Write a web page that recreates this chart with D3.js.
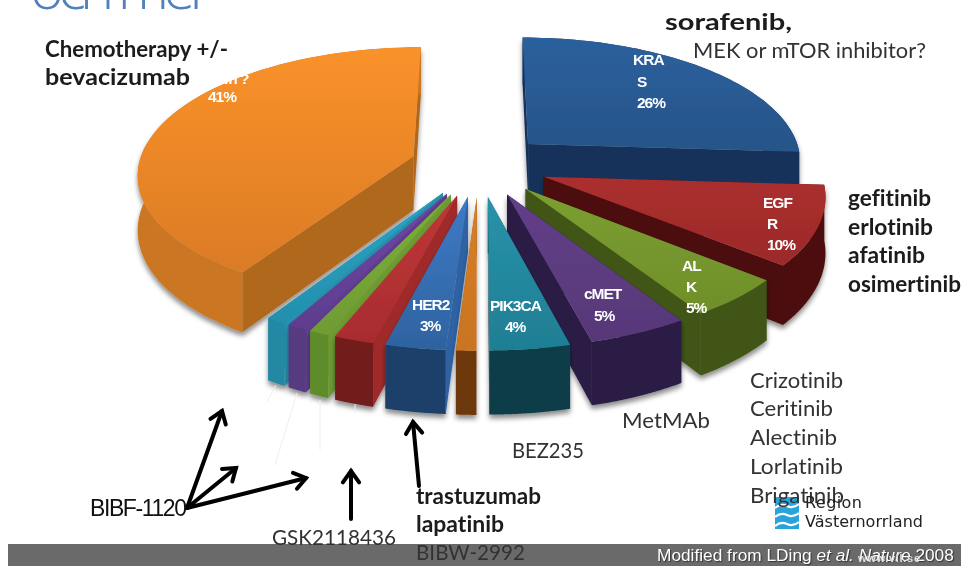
<!DOCTYPE html>
<html><head><meta charset="utf-8">
<script src="https://cdn.jsdelivr.net/npm/d3@7/dist/d3.min.js"></script>
<style>
html,body{margin:0;padding:0;background:#fff;overflow:hidden}
svg{display:block}
text{font-variant-ligatures:none;font-feature-settings:"liga" 0,"kern" 1}
</style></head><body><svg id="c" width="961" height="566"></svg>
<script>
// ---- data (clockwise from 12 o'clock) ----
const categories = ["KRAS","EGFR","ALK","cMET","PIK3CA","BRAF","HER2","NRAS","AKT1","MAP2K1","NTRK","Unknown"];
const values     = [26,10,5,5,4,1,3,2,1,1,1,41];
// ---- colours: light top, dark top, outer wall, cut wall ----
const topLight = ["#2C609E","#AC2F2E","#7C9F30","#623F88","#2893AB","#DB7F22","#3F7AC6","#C03738","#7CAE3C","#7047A6","#2AA5C4","#FA922A"];
const topDark  = ["#265488","#9B2A29","#6F8E2B","#573878","#1F7E93","#C87420","#2E639F","#A82C2F","#6F9C33","#5E3D8E","#238FAD","#DB7B25"];
const outerWall= ["#16335A","#4C0E0E","#3F5418","#2A1A44","#0F3C48","#6E390D","#1D3F69","#731A1D","#5F8C2C","#573A80","#2388A4","#CB7621"];
const cutWall  = ["#16335A","#4C0E0E","#3F5418","#2A1A44","#0F3C48","#8A4A12","#2D62A2","#A02B2C","#6E9A32","#5E3D8E","#2591AE","#B0691B"];
// ---- annotation text ----
const sliceLabels = [
 {t:"KRA",x:633,y:65},{t:"S",x:637,y:87},{t:"26%",x:637,y:108},
 {t:"EGF",x:763,y:208},{t:"R",x:767,y:229},{t:"10%",x:767,y:250},
 {t:"AL",x:682,y:271},{t:"K",x:686,y:292},{t:"5%",x:686,y:313},
 {t:"cMET",x:584,y:299},{t:"5%",x:594,y:321},
 {t:"HER2",x:412,y:310},{t:"3%",x:420,y:331},
 {t:"PIK3CA",x:490,y:311},{t:"4%",x:505,y:332},
 {t:"Unknown ?",x:174,y:84},{t:"41%",x:208,y:102}
];
const boldNotes = [
 {t:"sorafenib,",x:665,y:30,w:127},
 {t:"Chemotherapy +/-",x:45,y:57,w:183},
 {t:"bevacizumab",x:45,y:85,w:145},
 {t:"gefitinib",x:848,y:206,w:83},
 {t:"erlotinib",x:848,y:235,w:85},
 {t:"afatinib",x:848,y:263,w:77},
 {t:"osimertinib",x:848,y:292,w:113},
 {t:"trastuzumab",x:416,y:504,w:125},
 {t:"lapatinib",x:416,y:532,w:88}
];
const plainNotes = [
 {t:"MEK or mTOR inhibitor?",x:693,y:58,w:233},
 {t:"Crizotinib",x:750,y:388,w:93},
 {t:"Ceritinib",x:750,y:416,w:83},
 {t:"Alectinib",x:750,y:445,w:87},
 {t:"Lorlatinib",x:750,y:474,w:93},
 {t:"Brigatinib",x:750,y:503,w:94},
 {t:"MetMAb",x:622,y:428,w:88},
 {t:"BEZ235",x:512,y:458,w:72},
 {t:"GSK2118436",x:272,y:545,w:124},
 {t:"BIBW-2992",x:416,y:560,w:109}
];
const arrows = [
 {x1:187,y1:508,x2:222,y2:411},{x1:187,y1:508,x2:236,y2:468},{x1:187,y1:508,x2:306,y2:478},
 {x1:351,y1:519,x2:351,y2:471},{x1:419,y1:486,x2:413,y2:422}
];
const faintLines = [[276,385,267,402],[297,393,275,465],[320,400,320,450],[355,404,355,412]];

// ---- projection of the tilted pie plane ----
const cx=479, cy=165, rx=275, ry=125, persp=0.127, depth=54, explode=0.25;
function project(X,Y,z){const s=1/(1+persp*Y);return [cx+rx*X*s, cy-ry*Y*s+z*depth*s];}

const svg=d3.select("#c");
const defs=svg.append("defs");
const f=defs.append("filter").attr("id","sh").attr("x","-20%").attr("y","-20%").attr("width","140%").attr("height","140%");
f.append("feDropShadow").attr("dx",0).attr("dy",4).attr("stdDeviation",2.5).attr("flood-color","#000").attr("flood-opacity",.45);
defs.append("filter").attr("id","soft").append("feGaussianBlur").attr("stdDeviation",.45);
const g=defs.append("filter").attr("id","txt").attr("x","-5%").attr("y","-20%").attr("width","110%").attr("height","140%");
g.append("feGaussianBlur").attr("stdDeviation",.35);

const root=svg.append("g");

// title fragment
root.append("text").attr("x",30).attr("y",9).attr("font-family","Open Sans").attr("font-weight",300)
  .attr("font-size",58).attr("fill","#4F81BD").attr("textLength",182).text("och mer");

const pie=d3.pie().sort(null).value(d=>d.v);
const slices=pie(values.map((v,i)=>({v,i,name:categories[i]})));
const line=d3.line();

const faces=slices.map(s=>{
  const m=(s.startAngle+s.endAngle)/2;
  const ex=explode*Math.sin(m), ey=explode*Math.cos(m);
  const pt=(a,z)=>project(ex+Math.sin(a),ey+Math.cos(a),z);
  const apex=z=>project(ex,ey,z);
  const as=d3.range(0,61).map(k=>s.startAngle+(s.endAngle-s.startAngle)*k/60);
  const top=[apex(0),...as.map(a=>pt(a,0))];
  const outer=[...as.map(a=>pt(a,0)),...as.slice().reverse().map(a=>pt(a,1))];
  const cut=a=>[apex(0),pt(a,0),pt(a,1),apex(1)];
  const ys=top.map(p=>p[1]);
  return {s,i:s.data.i,m,ey,top,outer,cutA:cut(s.startAngle),cutB:cut(s.endAngle),y0:d3.min(ys),y1:d3.max(ys)};
});

faces.forEach(d=>{
  const lg=defs.append("linearGradient").attr("id","g"+d.i).attr("gradientUnits","userSpaceOnUse")
    .attr("x1",0).attr("x2",0).attr("y1",d.y0).attr("y2",d.y1);
  lg.append("stop").attr("offset",0).attr("stop-color",topLight[d.i]);
  lg.append("stop").attr("offset",1).attr("stop-color",topDark[d.i]);
});

// painter's order: far slices first
const order=faces.slice().sort((a,b)=>{
  const key=d=>{const ma=Math.min(Math.abs(d.m-Math.PI),Math.abs(d.m+Math.PI));return -ma;};
  return key(a)-key(b);
});
const pies=root.append("g").attr("filter","url(#soft)");
const groups=pies.selectAll("g.slice").data(order).join("g").attr("class","slice").attr("filter","url(#sh)");
groups.append("path").attr("d",d=>line(d.cutA)+"Z").attr("fill",d=>cutWall[d.i]);
groups.append("path").attr("d",d=>line(d.cutB)+"Z").attr("fill",d=>cutWall[d.i]);
groups.append("path").attr("d",d=>line(d.outer)+"Z").attr("fill",d=>outerWall[d.i]);
groups.append("path").attr("d",d=>line(d.top)+"Z").attr("fill",d=>`url(#g${d.i})`);

// faint leader lines
root.selectAll("line.faint").data(faintLines).join("line").attr("class","faint")
  .attr("x1",d=>d[0]).attr("y1",d=>d[1]).attr("x2",d=>d[2]).attr("y2",d=>d[3])
  .attr("stroke","#eeeeee").attr("stroke-width",1);

// slice labels
root.selectAll("text.sl").data(sliceLabels).join("text").attr("class","sl")
  .attr("x",d=>d.x).attr("y",d=>d.y).text(d=>d.t)
  .attr("font-family","Liberation Sans").attr("font-weight",700).attr("font-size",15.5)
  .attr("letter-spacing",-1).attr("fill","#fff").attr("filter","url(#txt)");

// bottom bar
root.append("rect").attr("x",8).attr("y",544).attr("width",953).attr("height",22).attr("fill","#6a6a6a");

// arrows
const arrowG=root.append("g").attr("stroke","#000").attr("fill","none").attr("stroke-width",4).attr("stroke-linecap","round").attr("stroke-linejoin","miter");
arrows.forEach(a=>{
  const ang=Math.atan2(a.y2-a.y1,a.x2-a.x1), L=14, sp=0.62;
  arrowG.append("line").attr("x1",a.x1).attr("y1",a.y1).attr("x2",a.x2).attr("y2",a.y2);
  arrowG.append("path").attr("d",line([
    [a.x2-L*Math.cos(ang-sp),a.y2-L*Math.sin(ang-sp)],[a.x2,a.y2],
    [a.x2-L*Math.cos(ang+sp),a.y2-L*Math.sin(ang+sp)]]));
});

// logo (under the overlapping notes)
const logo=root.append("g");
logo.append("rect").attr("x",775).attr("y",497).attr("width",24).attr("height",32).attr("fill","#29A3DC");
[503,512,521].forEach((y,k)=>{
  logo.append("path").attr("d",`M775,${y+5} Q781,${y} 787,${y+3} Q793,${y+6} 799,${y+1}`).attr("fill","none").attr("stroke","#fff").attr("stroke-width",2.2);
});

// notes
const note=(sel,data,weight,fill,size)=>sel.selectAll(null).data(data).join("text")
  .attr("x",d=>d.x).attr("y",d=>d.y).attr("textLength",d=>d.w).attr("lengthAdjust","spacingAndGlyphs")
  .attr("font-family","Lato").attr("font-weight",weight).attr("font-size",size).attr("fill",fill).attr("filter","url(#txt)").text(d=>d.t);
note(root.append("g"),boldNotes,700,"#1a1a1a",22);
note(root.append("g"),plainNotes,400,"#333",22);

root.append("text").attr("x",90).attr("y",516).attr("font-family","Liberation Sans").attr("font-size",23)
  .attr("textLength",97).attr("lengthAdjust","spacing").attr("fill","#111").text("BIBF-1120");

root.append("text").attr("x",805).attr("y",508).attr("font-family","DejaVu Sans").attr("font-size",16).attr("textLength",57).attr("fill","#222").text("Region");
root.append("text").attr("x",805).attr("y",527).attr("font-family","DejaVu Sans").attr("font-size",16).attr("textLength",118).attr("fill","#222").text("Västernorrland");

// footer
const foot=root.append("text").attr("x",657).attr("y",561).attr("font-family","Liberation Sans").attr("font-size",17.3).attr("fill","#fff").style("text-shadow","1px 1px 1px #333");
foot.append("tspan").text("Modified from LDing ");
foot.append("tspan").attr("font-style","italic").text("et al. Nature ");
foot.append("tspan").text("2008");
root.append("text").attr("x",858).attr("y",562).attr("font-family","Liberation Sans").attr("font-weight",700).attr("font-size",11).attr("textLength",62).attr("fill","#dddddd").text("www.vll.se");
</script></body></html>
